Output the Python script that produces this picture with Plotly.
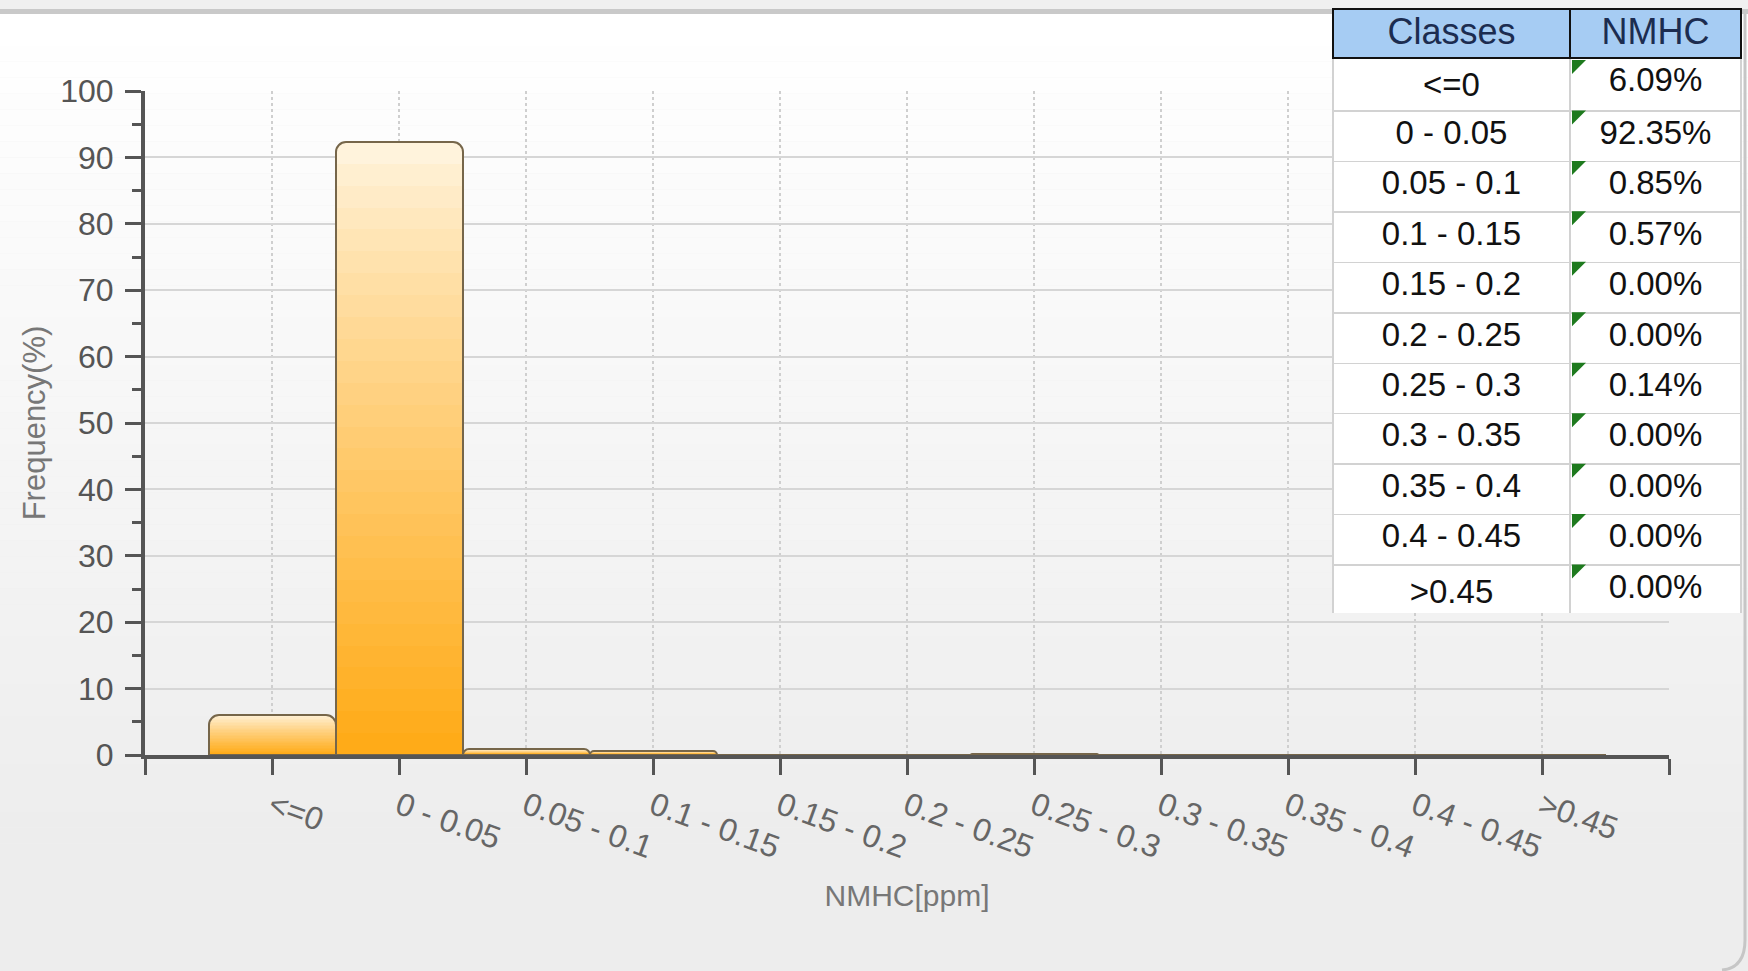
import plotly.graph_objects as go

# Frequency distribution of NMHC readings
classes = ["<=0", "0 - 0.05", "0.05 - 0.1", "0.1 - 0.15", "0.15 - 0.2", "0.2 - 0.25",
           "0.25 - 0.3", "0.3 - 0.35", "0.35 - 0.4", "0.4 - 0.45", ">0.45"]
freq = [6.09, 92.35, 0.85, 0.57, 0.00, 0.00, 0.14, 0.00, 0.00, 0.00, 0.00]
y_ticks = list(range(0, 101, 10))

W, H = 1748, 971
x_pos = list(range(len(classes)))


def px(x):
    return x / W


def py(y):
    return 1 - y / H


def lerp_color(c1, c2, t):
    a = [int(c1[i:i + 2], 16) for i in (1, 3, 5)]
    b = [int(c2[i:i + 2], 16) for i in (1, 3, 5)]
    return "#%02x%02x%02x" % tuple(round(a[i] + (b[i] - a[i]) * t) for i in range(3))


fig = go.Figure()

# vertical gradient fill: overlaid bars of shrinking height, darkening toward the base
N = 28
top_col, bot_col = "#fff3dc", "#ffab18"
for k in range(N):
    frac = (N - k) / N
    fig.add_trace(go.Bar(
        x=x_pos, y=[v * frac for v in freq], width=1.0,
        marker=dict(color=lerp_color(top_col, bot_col, (k / (N - 1)) ** 0.85), line=dict(width=0),
                    cornerradius=10),
        hoverinfo="skip", showlegend=False,
    ))

# outline of each bar
fig.add_trace(go.Bar(
    x=x_pos, y=freq, width=1.0,
    marker=dict(color="rgba(0,0,0,0)", line=dict(color="#76664a", width=2), cornerradius=10),
    showlegend=False, name="NMHC",
))

# summary table
tbl_x0, tbl_x1, tbl_y0, tbl_y1 = 1333, 1742, 9, 613
col_w = [237, 171]
head_h = 49
row_h = (tbl_y1 - tbl_y0 - head_h) / len(classes)
fig.add_trace(go.Table(
    domain=dict(x=[px(tbl_x0), px(tbl_x1)], y=[py(tbl_y1), py(tbl_y0)]),
    columnwidth=col_w,
    header=dict(values=["Classes", "NMHC"], fill_color="#a6ccf3",
                font=dict(family="Liberation Sans, Arial", size=36, color="#1c2c50"),
                line=dict(color="#111111", width=2), align="center", height=head_h),
    cells=dict(values=[classes, [f"{v:.2f}%" for v in freq]], fill_color="white",
               font=dict(family="Liberation Sans, Arial", size=33, color="#111111"),
               line=dict(color="#d2d2d2", width=1.5), align="center", height=row_h),
))

shapes = []
# page background: gradient from white to light grey
bands = 60
for i in range(bands):
    y0 = 14 + (H - 14) * i / bands
    y1 = 14 + (H - 14) * (i + 1) / bands
    shapes.append(dict(type="rect", xref="paper", yref="paper", layer="below",
                       x0=0, x1=1, y0=py(y1), y1=py(y0), line=dict(width=0),
                       fillcolor=lerp_color("#ffffff", "#ededed", min(1, i / (bands * 0.85)))))
shapes.append(dict(type="rect", xref="paper", yref="paper", layer="below",
                   x0=0, x1=1, y0=py(9), y1=1, line=dict(width=0), fillcolor="#f0f0f0"))
shapes.append(dict(type="rect", xref="paper", yref="paper", layer="below",
                   x0=0, x1=1, y0=py(14), y1=py(9), line=dict(width=0), fillcolor="#c9c9c9"))
# right border with rounded bottom corner
shapes.append(dict(type="path", xref="paper", yref="paper", layer="above",
                   path=f"M {px(1745)},{py(14)} L {px(1745)},{py(940)} "
                        f"Q {px(1745)},{py(968)} {px(1722)},{py(970)}",
                   line=dict(color="#c6c6c6", width=3)))
# green markers in the value cells
mx = tbl_x0 + col_w[0] + 2
for i in range(len(classes)):
    my = tbl_y0 + head_h + i * row_h + 2
    s = 14
    shapes.append(dict(type="path", xref="paper", yref="paper", layer="above",
                       path=f"M {px(mx)},{py(my)} L {px(mx + s)},{py(my)} L {px(mx)},{py(my + s)} Z",
                       fillcolor="#1e7a1e", line=dict(width=0)))

axis_col = "#555555"
fig.update_layout(
    width=W, height=H,
    margin=dict(l=0, r=0, t=0, b=0, autoexpand=False),
    paper_bgcolor="#efefef", plot_bgcolor="rgba(0,0,0,0)",
    barmode="overlay", bargap=0,
    font=dict(family="Liberation Sans, Arial", color="#666666"),
    shapes=shapes,
    xaxis=dict(
        domain=[px(145), px(1669)], range=[-1, len(classes)], automargin=False,
        tickvals=list(range(-1, len(classes) + 1)), ticktext=[""] + classes + [""],
        tickangle=20, tickfont=dict(size=32, color="#666666"),
        showline=True, linecolor=axis_col, linewidth=4,
        ticks="outside", ticklen=16, tickwidth=3, tickcolor=axis_col,
        showgrid=True, gridcolor="#cfcfcf", gridwidth=1.5, griddash="dot",
        zeroline=False,
        title=dict(text="NMHC[ppm]", font=dict(size=30, color="#777777"), standoff=22),
    ),
    yaxis=dict(
        domain=[py(755), py(91)], range=[0, 100], automargin=False,
        tickvals=y_ticks, tickfont=dict(size=32, color="#555555"), ticklabelstandoff=5,
        showline=True, linecolor=axis_col, linewidth=4,
        ticks="outside", ticklen=16, tickwidth=3, tickcolor=axis_col,
        minor=dict(dtick=5, ticks="outside", ticklen=9, tickwidth=3, tickcolor=axis_col,
                   showgrid=False),
        showgrid=True, gridcolor="#d6d6d6", gridwidth=1.5,
        zeroline=False,
        title=dict(text="Frequency(%)", font=dict(size=31, color="#777777"), standoff=6),
    ),
)

fig.write_html("out.html")
